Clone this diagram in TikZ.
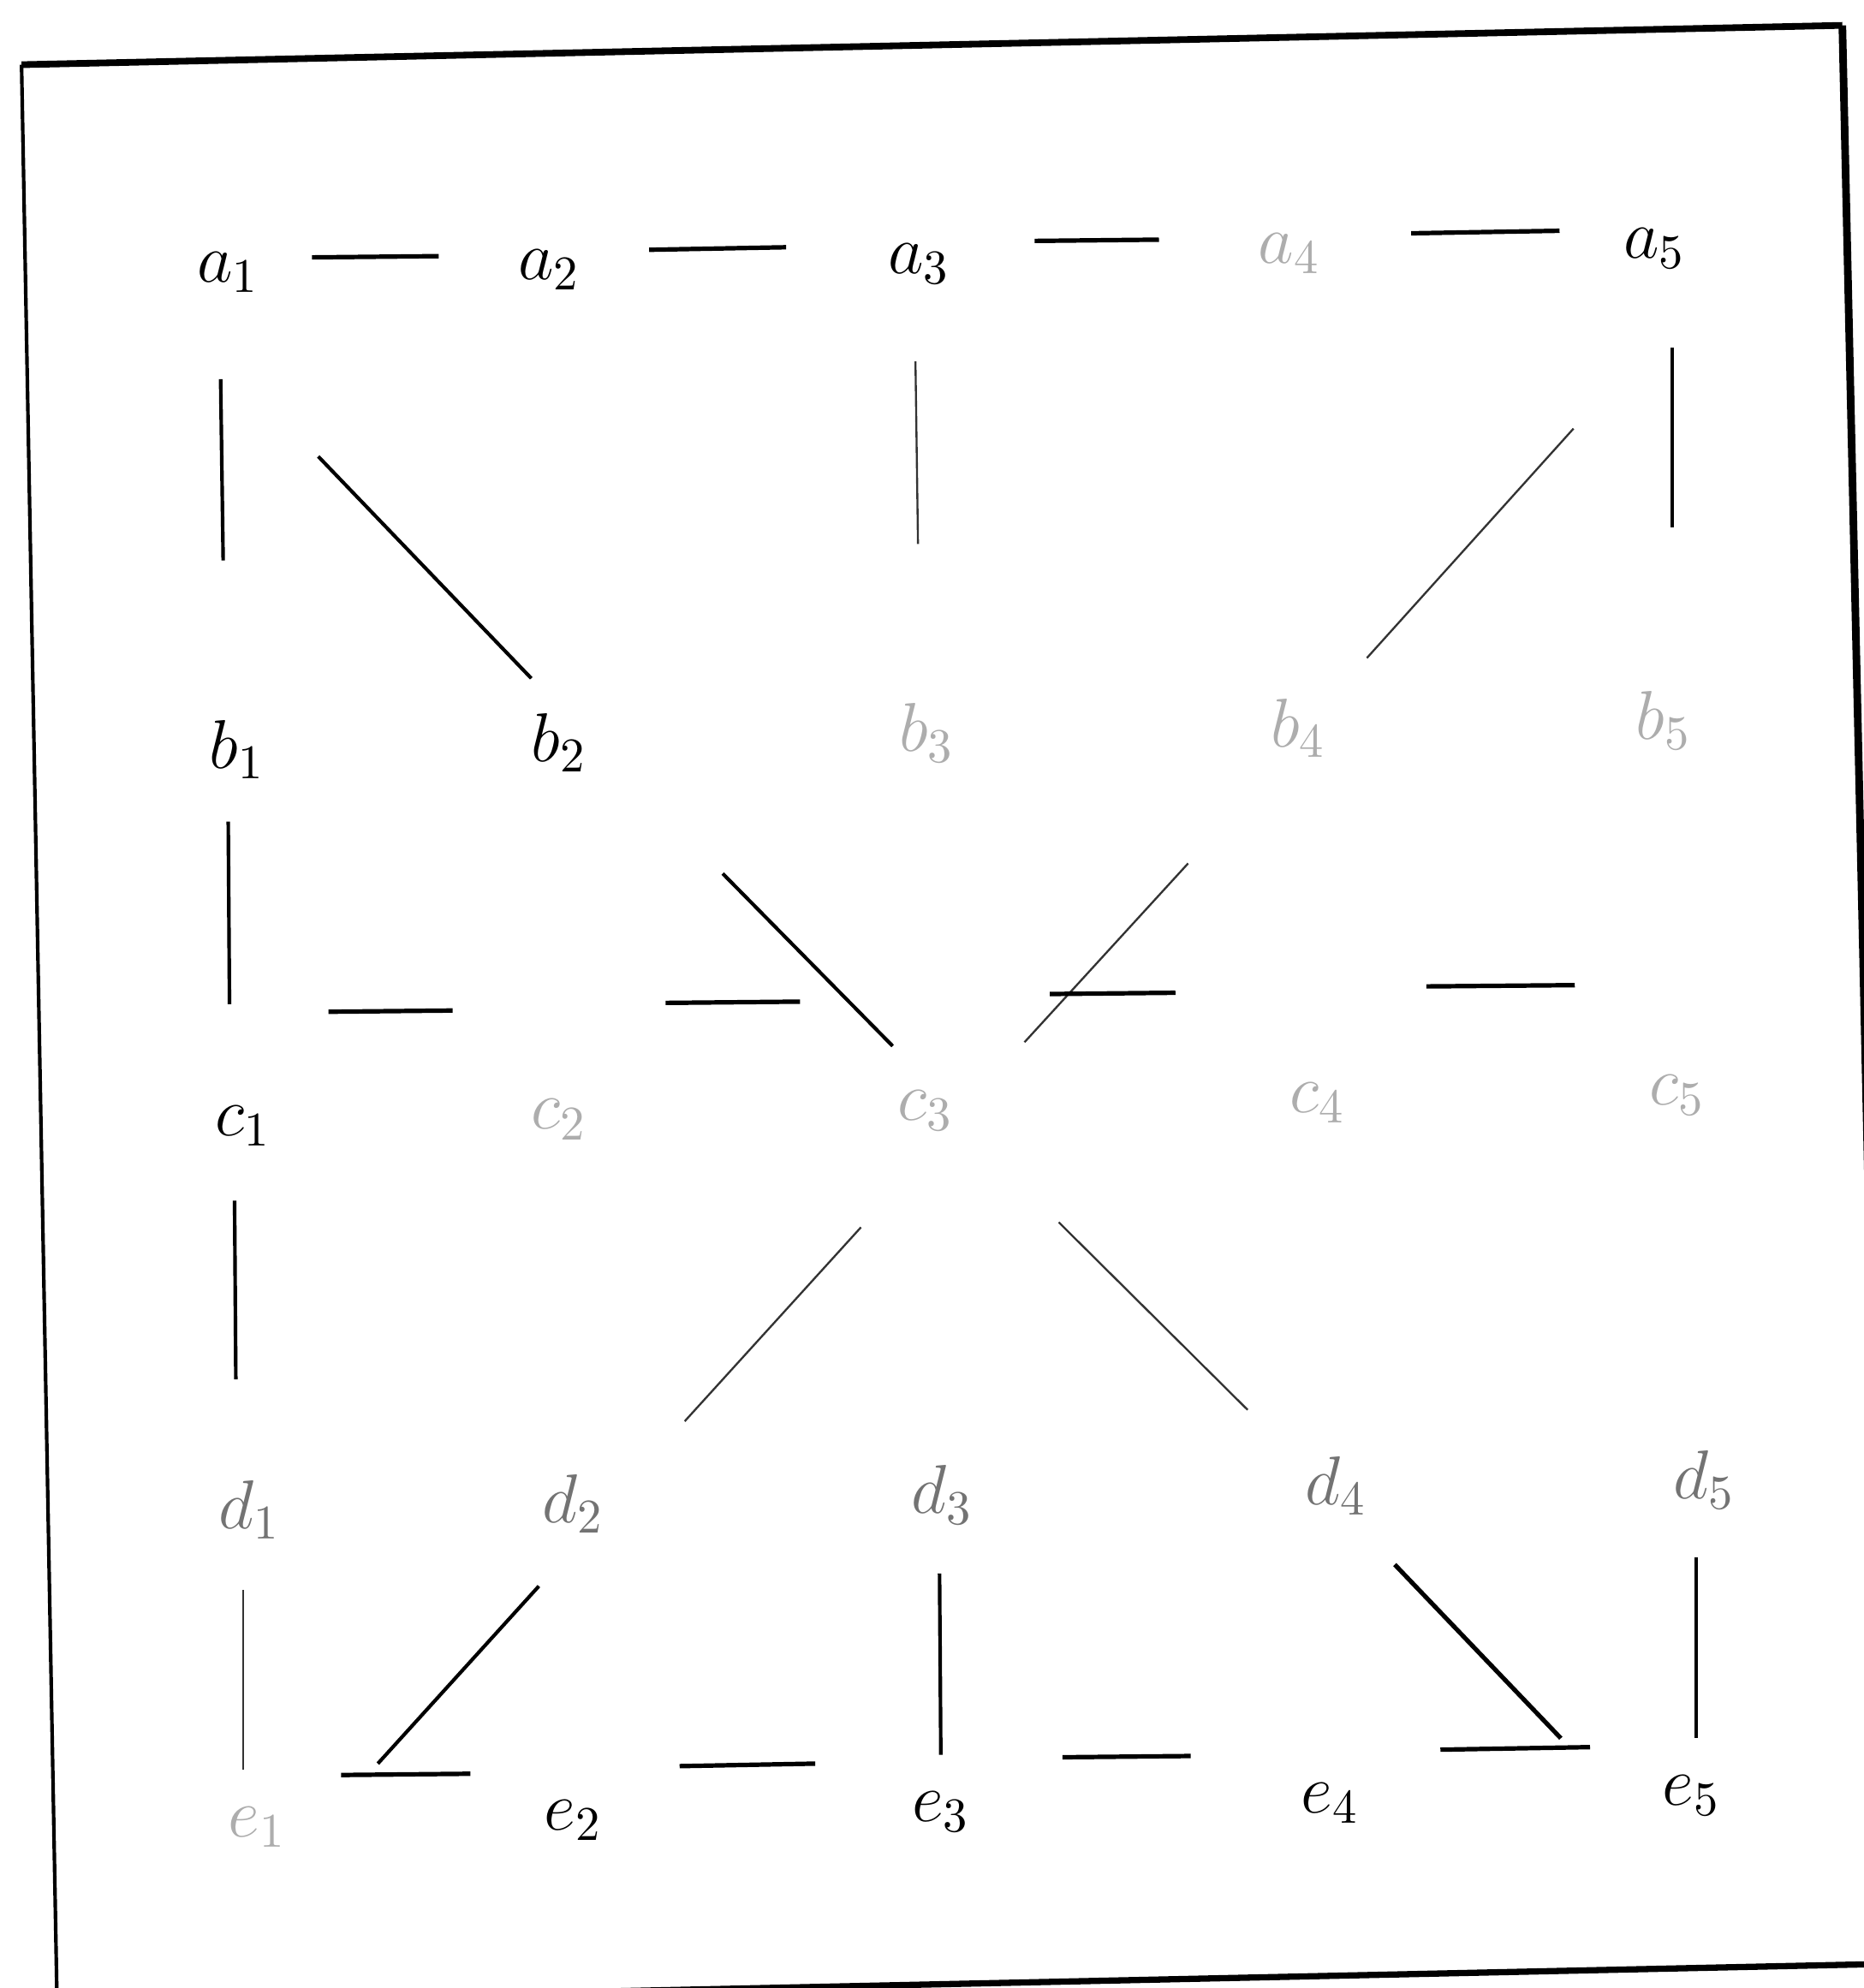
\RequirePackage{fix-cm}
\documentclass[tikz,border=0pt]{standalone}
\usepackage{xcolor}
\definecolor{inkmid}{gray}{0.45}
\definecolor{inkfaint}{gray}{0.68}

\begin{document}
\begin{tikzpicture}[x=0.01cm, y=-0.01cm, font=\fontsize{15.5}{18}\selectfont,
    lbl/.style={inner sep=0pt},
    lblmid/.style={lbl, text=inkmid},
    lblfaint/.style={lbl, text=inkfaint},
    link/.style={line width=0.8pt},
    linkthick/.style={line width=1pt},
    linkthin/.style={line width=0.45pt, black!80}]
  \useasboundingbox (0,0) rectangle (1470,1568);
  \begin{scope}
    \clip (0,0) rectangle (1470,1568);
    \coordinate (tl) at (17,51);
    \coordinate (tr) at (1453,20);
    \coordinate (br) at (1487,1549);
    \coordinate (bl) at (45,1580);
    \draw[line width=1.5pt] (tl) -- (tr);
    \draw[line width=1.7pt] (tr) -- (br);
    \draw[line width=1.4pt] (br) -- (bl);
    \draw[line width=0.8pt] (bl) -- (tl);
  \end{scope}

  \node[lbl] (a1) at (180,215) {$a_1$};
  \node[lbl] (a2) at (433,213) {$a_2$};
  \node[lbl] (a3) at (725,208) {$a_3$};
  \node[lblfaint] (a4) at (1017,200) {$a_4$};
  \node[lbl] (a5) at (1305,196) {$a_5$};
  \node[lbl] (b1) at (187,591) {$b_1$};
  \node[lbl] (b2) at (441,586) {$b_2$};
  \node[lblfaint] (b3) at (731,578) {$b_3$};
  \node[lblfaint] (b4) at (1024,574) {$b_4$};
  \node[lblfaint] (b5) at (1312,568) {$b_5$};
  \node[lbl] (c1) at (192,888) {$c_1$};
  \node[lblfaint] (c2) at (441,883) {$c_2$};
  \node[lblfaint] (c3) at (730,876) {$c_3$};
  \node[lblfaint] (c4) at (1039,870) {$c_4$};
  \node[lblfaint] (c5) at (1323,864) {$c_5$};
  \node[lblmid] (d1) at (197,1191) {$d_1$};
  \node[lblmid] (d2) at (452,1186) {$d_2$};
  \node[lblmid] (d3) at (743,1179) {$d_3$};
  \node[lblmid] (d4) at (1054,1172) {$d_4$};
  \node[lblmid] (d5) at (1344,1167) {$d_5$};
  \node[lblfaint] (e1) at (203,1441) {$e_1$};
  \node[lbl] (e2) at (452,1436) {$e_2$};
  \node[lbl] (e3) at (742,1429) {$e_3$};
  \node[lbl] (e4) at (1049,1422) {$e_4$};
  \node[lbl] (e5) at (1334,1416) {$e_5$};

  \draw[linkthick] ([shift={(66,-12)}]a1.center) -- ([shift={(-87,-11)}]a2.center);
  \draw[linkthick] ([shift={(79,-16)}]a2.center) -- ([shift={(-105,-13)}]a3.center);
  \draw[linkthick] ([shift={(91,-18)}]a3.center) -- ([shift={(-103,-11)}]a4.center);
  \draw[linkthick] ([shift={(96,-16)}]a4.center) -- ([shift={(-75,-14)}]a5.center);
  \draw[link] ([shift={(-6,84)}]a1.center) -- ([shift={(-11,-149)}]b1.center);
  \draw[link] ([shift={(71,145)}]a1.center) -- ([shift={(-22,-51)}]b2.center);
  \draw[linkthin] ([shift={(-3,77)}]a3.center) -- ([shift={(-7,-149)}]b3.center);
  \draw[link] ([shift={(14,78)}]a5.center) -- ([shift={(7,-152)}]b5.center);
  \draw[linkthin] ([shift={(-64,142)}]a5.center) -- ([shift={(54,-55)}]b4.center);
  \draw[link] ([shift={(-7,57)}]b1.center) -- ([shift={(-11,-96)}]c1.center);
  \draw[link] ([shift={(129,103)}]b2.center) -- ([shift={(-26,-51)}]c3.center);
  \draw[linkthin] ([shift={(-87,107)}]b4.center) -- ([shift={(78,-54)}]c3.center);
  \draw[linkthick] ([shift={(67,-90)}]c1.center) -- ([shift={(-84,-86)}]c2.center);
  \draw[linkthick] ([shift={(84,-92)}]c2.center) -- ([shift={(-99,-86)}]c3.center);
  \draw[linkthick] ([shift={(98,-92)}]c3.center) -- ([shift={(-112,-87)}]c4.center);
  \draw[linkthick] ([shift={(86,-92)}]c4.center) -- ([shift={(-81,-87)}]c5.center);
  \draw[link] ([shift={(-7,59)}]c1.center) -- ([shift={(-11,-103)}]d1.center);
  \draw[linkthin] ([shift={(-51,92)}]c3.center) -- ([shift={(88,-65)}]d2.center);
  \draw[linkthin] ([shift={(105,88)}]c3.center) -- ([shift={(-70,-60)}]d4.center);
  \draw[linkthin] ([shift={(-5,63)}]d1.center) -- ([shift={(-11,-45)}]e1.center);
  \draw[link] ([shift={(-27,65)}]d2.center) -- ([shift={(95,-50)}]e1.center);
  \draw[link] ([shift={(-2,62)}]d3.center) -- ([shift={(0,-45)}]e3.center);
  \draw[linkthick] ([shift={(46,62)}]d4.center) -- ([shift={(-103,-45)}]e5.center);
  \draw[link] ([shift={(-6,61)}]d5.center) -- ([shift={(4,-45)}]e5.center);
  \draw[linkthick] ([shift={(66,-41)}]e1.center) -- ([shift={(-81,-37)}]e2.center);
  \draw[linkthick] ([shift={(84,-43)}]e2.center) -- ([shift={(-99,-38)}]e3.center);
  \draw[linkthick] ([shift={(96,-43)}]e3.center) -- ([shift={(-110,-37)}]e4.center);
  \draw[linkthick] ([shift={(87,-42)}]e4.center) -- ([shift={(-80,-38)}]e5.center);
\end{tikzpicture}
\end{document}
